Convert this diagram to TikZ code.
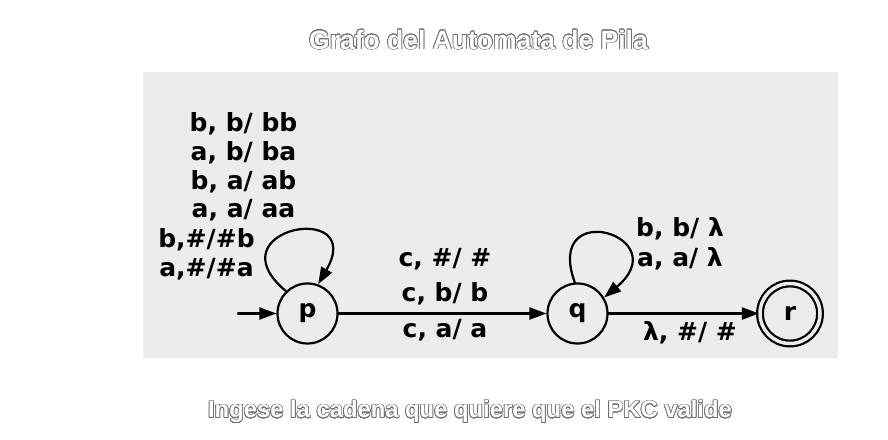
\documentclass[tikz,border=0pt]{standalone}
\usepackage{fontspec}
\setmainfont{DejaVu Sans}
\newfontfamily\headfont{Liberation Sans}
\usepackage{contour}
\usetikzlibrary{arrows.meta}
\definecolor{panelgray}{RGB}{236,236,236}
\definecolor{rimgray}{RGB}{110,110,110}
\contourlength{0.7pt}
\newcommand{\hollow}[1]{{\color{white}\contour{rimgray}{#1}}}

\begin{document}
\begin{tikzpicture}[x = 1pt, y = 1pt, line cap = round, line join = round,
  state/.style = {draw, circle, line width = 2.2pt, minimum size = 60pt, inner sep = 0pt,
    font = \fontsize{25}{25}\selectfont\bfseries},
  trans/.style = {line width = 2.2pt, -{Triangle[length = 17pt, width = 12pt]}},
  lbl/.style = {align = center, inner sep = 0pt, font = \fontsize{25}{28.7}\selectfont\bfseries}]
  \useasboundingbox (0, 0) rectangle (888, 439);

  % panel behind the automaton
  \fill[panelgray] (143, 81) rectangle (838, 367);

  \node (title) at (478.5, 399) {\headfont\bfseries\fontsize{26.5}{26.5}\selectfont\hollow{Grafo del Automata de Pila}};
  \node (prompt) at (470, 27) {\headfont\bfseries\fontsize{23.8}{23.8}\selectfont\hollow{Ingese la cadena que quiere que el PKC valide}};

  \node[state] (p) at (307.5, 125.5) {p};
  \node[state] (q) at (577.5, 125.5) {q};
  \node[state, double = panelgray, double distance = 3.5pt] (r) at (790, 125.5) {r};

  \coordinate (start) at (238, 125.5);
  \draw[trans] (start) -- (p);
  \draw[trans] (p) -- (q);
  \draw[trans] (q) -- (r);

  \draw[trans] (p.134) .. controls +(140:98) and +(60:98) .. (p.70);
  \draw[trans] (q.95) .. controls +(110:92) and +(40:96) .. (q.31);

  \node[lbl] (pushtwo) at (243.5, 272) {b, b/ bb\\a, b/ ba\\b, a/ ab\\a, a/ aa};
  \node[lbl] (pushone) at (206.5, 185) {b,\#/\#b\\a,\#/\#a};
  \node[lbl] (keepab) at (445, 162.5) {c, \#/ \#\\[6pt]c, b/ b};
  \node[lbl] (keepa) at (445, 109) {c, a/ a};
  \node[lbl] (popq) at (680, 195) {b, b/ λ\\[1pt]a, a/ λ};
  \node[lbl] (accept) at (690, 106) {λ, \#/ \#};
\end{tikzpicture}
\end{document}
